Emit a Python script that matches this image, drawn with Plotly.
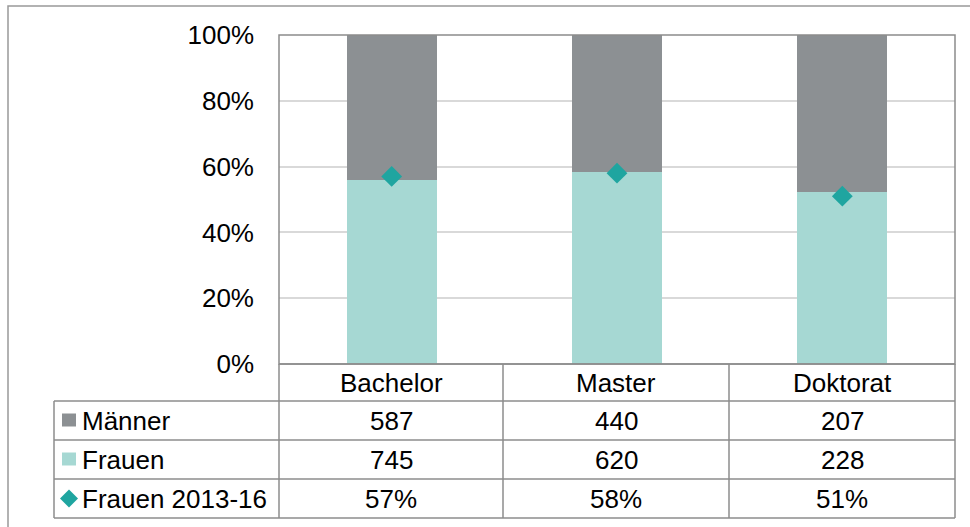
import plotly.graph_objects as go

categories = ["Bachelor", "Master", "Doktorat"]
maenner = [587, 440, 207]
frauen = [745, 620, 228]
frauen_2013_16 = [57, 58, 51]
frauen_2013_16_labels = ["57%", "58%", "51%"]
series_names = ["Männer", "Frauen", "Frauen 2013-16"]
y_ticks = [0, 20, 40, 60, 80, 100]
y_tick_labels = ["0%", "20%", "40%", "60%", "80%", "100%"]

C_M = "#8c9093"
C_F = "#a6d8d3"
C_D = "#1fa5a0"
C_LINE = "#8c8c8c"
FONT = "Liberation Sans, Arial, sans-serif"

W, H = 970, 527
L, R, T, B = 279, 955, 35, 364
PW, PH = R - L, B - T


def px(x):
    return (x - L) / PW


def py(y):
    return (B - y) / PH


fig = go.Figure()
fig.add_trace(go.Bar(x=categories, y=frauen, name=series_names[1], marker_color=C_F,
                     marker_line_width=0, width=0.4))
fig.add_trace(go.Bar(x=categories, y=maenner, name=series_names[0], marker_color=C_M,
                     marker_line_width=0, width=0.4))
fig.add_trace(go.Scatter(x=categories, y=frauen_2013_16, name=series_names[2], mode="markers",
                         marker=dict(symbol="diamond", size=16, color=C_D)))

shapes = []
ann = []


def hline(x0, x1, y, w=1.5):
    shapes.append(dict(type="line", xref="paper", yref="paper", x0=px(x0), x1=px(x1),
                       y0=py(y), y1=py(y), line=dict(color=C_LINE, width=w)))


def vline(x, y0, y1, w=1.5):
    shapes.append(dict(type="line", xref="paper", yref="paper", x0=px(x), x1=px(x),
                       y0=py(y0), y1=py(y1), line=dict(color=C_LINE, width=w)))


# outer frame
shapes.append(dict(type="rect", xref="paper", yref="paper", x0=px(8), x1=px(990),
                   y0=py(6), y1=py(540), line=dict(color="#999999", width=1.5)))
# plot area border
shapes.append(dict(type="rect", xref="paper", yref="paper", x0=0, x1=1, y0=0, y1=1,
                   line=dict(color=C_LINE, width=1.5)))

# table rows
row_y = [364, 401, 440, 479, 518]
col_x = [279, 503, 729, 955]
hline(279, 955, 364)
for y in row_y[1:]:
    hline(54, 955, y)
vline(54, 401, 518)
for x in col_x:
    vline(x, 364, 518)

fs = 26
# category labels
for i, c in enumerate(categories):
    cx = (col_x[i] + col_x[i + 1]) / 2
    ann.append(dict(x=px(cx), y=py(383), xref="paper", yref="paper", text=c, showarrow=False,
                    font=dict(size=fs, color="black", family=FONT), xanchor="center", yanchor="middle"))

rows = [[str(v) for v in maenner], [str(v) for v in frauen], frauen_2013_16_labels]
for r, vals in enumerate(rows):
    cy = (row_y[r + 1] + row_y[r + 2]) / 2
    for i, v in enumerate(vals):
        cx = (col_x[i] + col_x[i + 1]) / 2
        ann.append(dict(x=px(cx), y=py(cy), xref="paper", yref="paper", text=v, showarrow=False,
                        font=dict(size=fs, color="black", family=FONT), xanchor="center", yanchor="middle"))
    ann.append(dict(x=px(80), y=py(cy), xref="paper", yref="paper", text=series_names[r], showarrow=False,
                    font=dict(size=fs, color="black", family=FONT), xanchor="left", yanchor="middle"))

# legend keys
for r, col in enumerate([C_M, C_F]):
    cy = (row_y[r + 1] + row_y[r + 2]) / 2
    shapes.append(dict(type="rect", xref="paper", yref="paper", x0=px(62), x1=px(76),
                       y0=py(cy - 7), y1=py(cy + 6), line=dict(width=0), fillcolor=col))
cy = (row_y[3] + row_y[4]) / 2
cx = 69
d = 9
path = "M {} {} L {} {} L {} {} L {} {} Z".format(
    px(cx - d), py(cy), px(cx), py(cy - d), px(cx + d), py(cy), px(cx), py(cy + d))
shapes.append(dict(type="path", xref="paper", yref="paper", path=path, line=dict(width=0), fillcolor=C_D))

fig.update_layout(
    width=W, height=H,
    margin=dict(l=L, r=W - R, t=T, b=H - B),
    barmode="stack", barnorm="percent",
    plot_bgcolor="white", paper_bgcolor="white",
    showlegend=False,
    shapes=shapes, annotations=ann,
    font=dict(family=FONT, size=fs, color="black"),
    xaxis=dict(showticklabels=False, showgrid=False, zeroline=False, range=[-0.5, 2.5], fixedrange=True),
    yaxis=dict(range=[0, 100], tickvals=y_ticks, ticktext=y_tick_labels, showgrid=True,
               gridcolor="#d9d9d9", gridwidth=1.5, zeroline=False, ticklabelstandoff=24,
               tickfont=dict(size=fs, color="black", family=FONT), fixedrange=True),
)

fig.write_html("out.html")
